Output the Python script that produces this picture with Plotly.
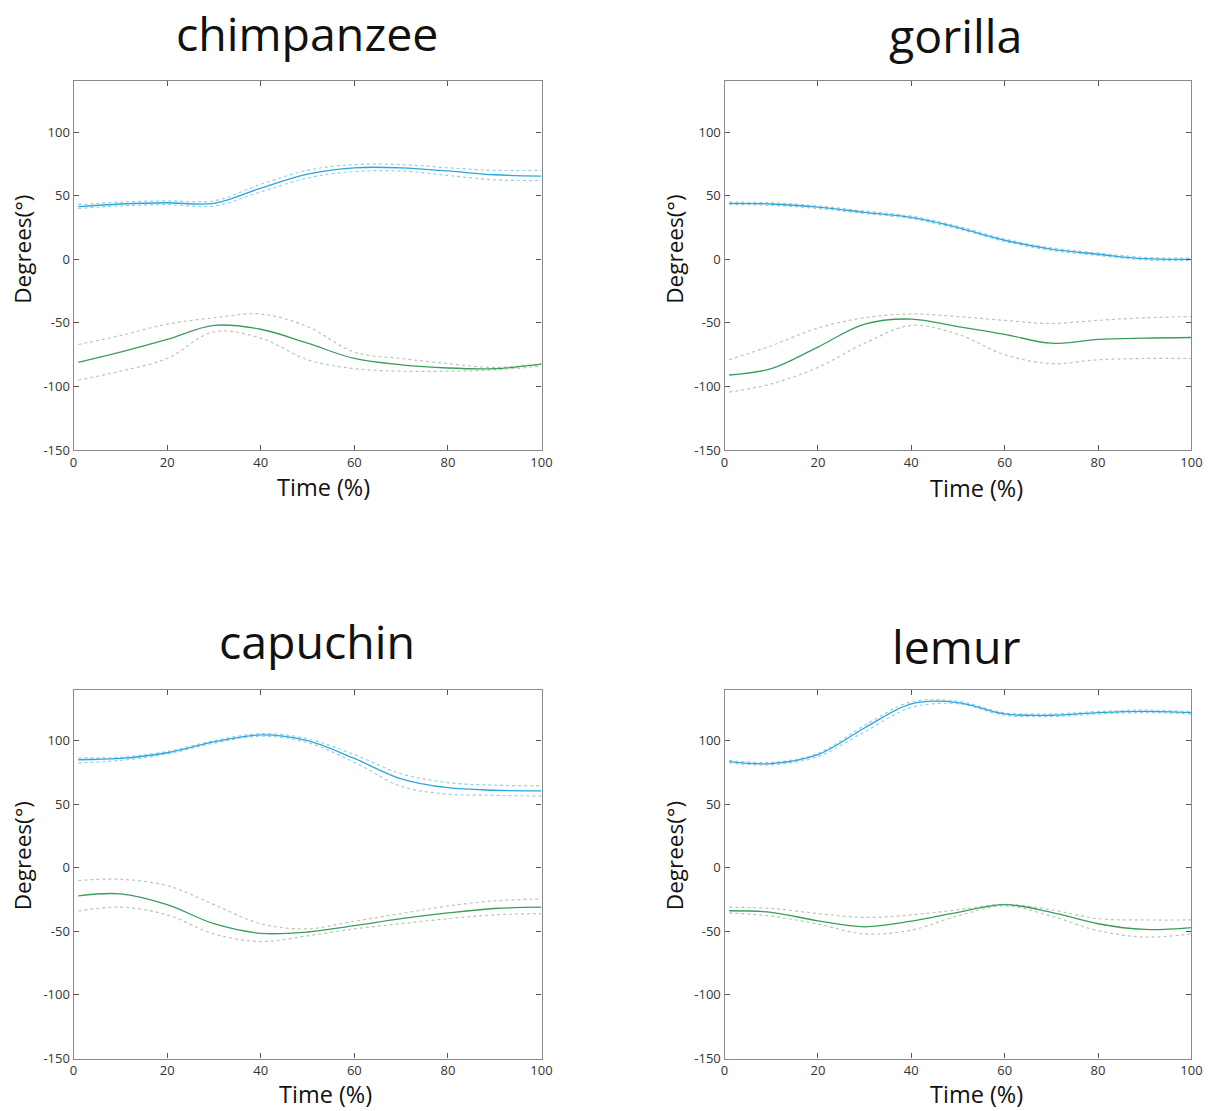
import plotly.graph_objects as go

W, H = 1227, 1119
X = [1, 10, 20, 30, 40, 50, 60, 70, 80, 90, 100]
x_ticks = [0, 20, 40, 60, 80, 100]
y_ticks = [-150, -100, -50, 0, 50, 100]
y_tick_text = ["-150", "-100", "-50", "0", "50", "100"]
titles = ["chimpanzee", "gorilla", "capuchin", "lemur"]

# chimpanzee
chimp_blue = [41.5, 43.5, 44.5, 44, 56, 67, 72, 72, 69.5, 66.5, 65.5]
chimp_blue_up = [43, 45, 46, 46, 59, 70, 74.5, 74.5, 72, 70, 70]
chimp_blue_lo = [40, 42, 43, 42, 53, 64, 69, 69.5, 66, 62.5, 62]
chimp_green = [-81, -73, -63, -52, -55, -66, -78, -83, -85.5, -86, -82.5]
chimp_green_up = [-67, -60, -51, -46, -43, -53, -73, -78, -82, -85, -82]
chimp_green_lo = [-95, -88, -78, -57, -62, -79, -86, -88, -88, -87, -84]

# gorilla
gor_blue = [44, 43.5, 41, 37, 33, 25, 15, 8, 4, 0.5, 0]
gor_blue_up = [45, 44.5, 42, 38, 34, 26, 16, 9, 5, 1.5, 1]
gor_blue_lo = [43, 42.5, 40, 36, 32, 24, 14, 7, 3, -0.5, -1]
gor_green = [-91, -86, -69, -51, -47, -53, -59, -66, -63, -62, -61.5]
gor_green_up = [-79, -68, -54, -46, -43, -45, -48, -50.5, -48, -46, -45]
gor_green_lo = [-104.5, -98, -85, -66, -52, -59, -75, -82, -79, -78, -78]

# capuchin
cap_blue = [85, 86, 90.5, 99, 104.5, 100, 86, 70, 63, 61, 60.5]
cap_blue_up = [86.5, 87, 91.5, 100, 105.5, 101.5, 89, 74, 67, 65, 64.5]
cap_blue_lo = [82.5, 84.5, 89.5, 98, 103.5, 98.5, 83, 64, 58, 57, 56.5]
cap_green = [-22, -20.5, -29, -44, -51.5, -50.5, -45.5, -40, -35.5, -32, -31]
cap_green_up = [-10, -9, -14, -29, -44, -48, -42, -36, -30, -26, -24.5]
cap_green_lo = [-34, -31, -37, -52, -58, -53.5, -48, -44, -40, -37, -36]

# lemur
lem_blue = [83.5, 82, 89, 110, 129, 130, 121, 120, 122, 123, 122]
lem_blue_up = [84.5, 83, 90, 112, 130.5, 131, 122, 121, 123, 124, 123]
lem_blue_lo = [82.5, 81, 87.5, 107, 126, 129, 120, 119, 121, 122, 121]
lem_green = [-33.8, -35, -41.7, -46.4, -42, -35, -29, -35, -44, -48.5, -47]
lem_green_up = [-31, -32, -36, -39, -37, -33, -28.7, -33, -40, -41, -41]
lem_green_lo = [-35.5, -38, -44.3, -52, -49, -37.8, -30, -38, -49.5, -54.5, -52]

panels = [
    (chimp_blue, chimp_blue_up, chimp_blue_lo, chimp_green, chimp_green_up, chimp_green_lo),
    (gor_blue, gor_blue_up, gor_blue_lo, gor_green, gor_green_up, gor_green_lo),
    (cap_blue, cap_blue_up, cap_blue_lo, cap_green, cap_green_up, cap_green_lo),
    (lem_blue, lem_blue_up, lem_blue_lo, lem_green, lem_green_up, lem_green_lo),
]

BLUE = "#2ea6da"
BLUE_BAND = "#8fd0ec"
GREEN = "#3d9b5e"
GREEN_BAND = "#b8c6ba"


# map target picture pixel -> page pixel (compensates the observed photo scaling)
def gx(v):
    return (v - 3.4) / 0.9879


def gy(v):
    return (v + 1.4) / 0.9928


def px(v):
    return gx(v) / W


def py(v):
    return 1 - gy(v) / H


xdomains = [[px(73), px(541)], [px(724), px(1191)], [px(73), px(541)], [px(724), px(1191)]]
ydomains = [[py(449), py(80)], [py(449), py(80)], [py(1058), py(689)], [py(1058), py(689)]]
title_xy = [(306, 32), (955, 34), (316, 640), (956, 645)]
xlabel_xy = [(323, 486), (976, 487), (325, 1094), (976, 1094)]
ylabel_xy = [(22, 248), (674, 248), (22, 855), (674, 855)]

fig = go.Figure()
axis_style = dict(
    showline=True, mirror="ticks", linecolor="#8a8a8a", linewidth=1.2,
    ticks="inside", ticklen=5, tickcolor="#555555", showgrid=False, zeroline=False,
    tickfont=dict(family="Open Sans", size=13, color="#333333"),
)

font = "Open Sans"
for i, (b, bu, bl, g, gu, gl) in enumerate(panels):
    n = i + 1
    xa = "x" if n == 1 else f"x{n}"
    ya = "y" if n == 1 else f"y{n}"
    for ys, col, dash, w in [(bu, BLUE_BAND, "dot", 1.2), (bl, BLUE_BAND, "dot", 1.2),
                             (gu, GREEN_BAND, "dot", 1.2), (gl, GREEN_BAND, "dot", 1.2),
                             (b, BLUE, "solid", 1.3), (g, GREEN, "solid", 1.3)]:
        fig.add_trace(go.Scatter(x=X, y=ys, mode="lines", xaxis=xa, yaxis=ya,
                                 line=dict(color=col, dash=dash, width=w, shape="spline", smoothing=1.0),
                                 showlegend=False, hoverinfo="skip"))
    kx = "xaxis" if n == 1 else f"xaxis{n}"
    ky = "yaxis" if n == 1 else f"yaxis{n}"
    fig.layout[kx] = dict(domain=xdomains[i], range=[0, 100], tickvals=x_ticks,
                          anchor=ya, **axis_style)
    fig.layout[ky] = dict(domain=ydomains[i], range=[-150, 140], tickvals=y_ticks,
                          ticktext=y_tick_text, anchor=xa, **axis_style)
    fig.add_annotation(text=titles[i], x=px(title_xy[i][0]), y=py(title_xy[i][1]),
                       xref="paper", yref="paper", showarrow=False,
                       xanchor="center", yanchor="middle",
                       font=dict(family=font, size=46.5, color="#111111"))
    fig.add_annotation(text="Time (%)", x=px(xlabel_xy[i][0]), y=py(xlabel_xy[i][1]),
                       xref="paper", yref="paper", showarrow=False,
                       xanchor="center", yanchor="middle",
                       font=dict(family=font, size=23.5, color="#111111"))
    fig.add_annotation(text="Degrees(°)", x=px(ylabel_xy[i][0]), y=py(ylabel_xy[i][1]),
                       xref="paper", yref="paper", showarrow=False, textangle=-90,
                       xanchor="center", yanchor="middle",
                       font=dict(family=font, size=22.5, color="#111111"))

fig.update_layout(width=W, height=H, margin=dict(l=0, r=0, t=0, b=0),
                  paper_bgcolor="white", plot_bgcolor="white")
fig.write_html(
    "out.html",
    config={"displayModeBar": False},
    post_script="document.body.style.margin='0';document.body.style.overflow='hidden';"
                "document.documentElement.style.overflow='hidden';",
)
